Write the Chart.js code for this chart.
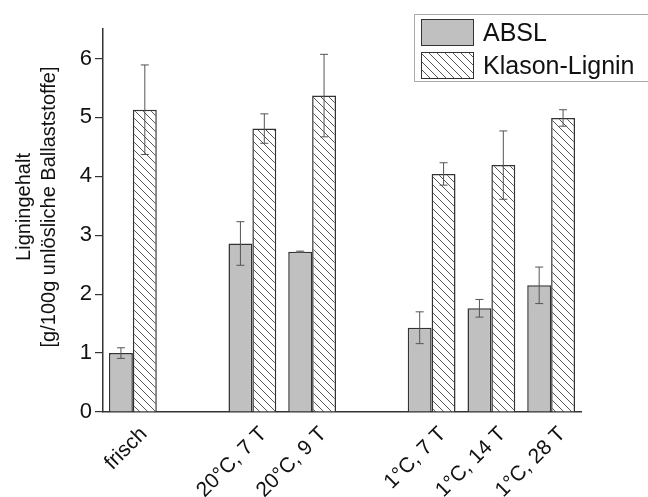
<!DOCTYPE html>
<html>
<head>
<meta charset="utf-8">
<script src="https://cdn.jsdelivr.net/npm/chart.js@4.4.1/dist/chart.umd.min.js"></script>
<style>
  html, body { margin: 0; padding: 0; background: #fff; }
  #wrap { width: 648px; height: 497px; }
</style>
</head>
<body>
<div id="wrap"><canvas id="c" width="648" height="497"></canvas></div>
<script>
const categories = ['frisch', '', '20°C, 7 T', '20°C, 9 T', '', '1°C, 7 T', '1°C, 14 T', '1°C, 28 T'];
const abslValues = [1.00, null, 2.86, 2.72, null, 1.43, 1.76, 2.15];
const abslErrors = [0.09, null, 0.37, 0.01, null, 0.27, 0.15, 0.31];
const klasonValues = [5.13, null, 4.81, 5.37, null, 4.04, 4.19, 4.99];
const klasonErrors = [0.76, null, 0.25, 0.70, null, 0.19, 0.58, 0.14];
const yTicks = [0, 1, 2, 3, 4, 5, 6];
const seriesNames = ['ABSL', 'Klason-Lignin'];
const yTitle = ['Ligningehalt', '[g/100g unlösliche Ballaststoffe]'];

const FONT = "'Liberation Sans', Arial, sans-serif";

function makeHatch() {
  const s = 8;
  const pc = document.createElement('canvas');
  pc.width = s; pc.height = s;
  const p = pc.getContext('2d');
  p.fillStyle = '#ffffff';
  p.fillRect(0, 0, s, s);
  p.strokeStyle = '#555';
  p.lineWidth = 1;
  p.beginPath();
  p.moveTo(0, 0); p.lineTo(s, s);
  p.moveTo(-1, s - 1); p.lineTo(1, s + 1);
  p.moveTo(s - 1, -1); p.lineTo(s + 1, 1);
  p.stroke();
  return document.getElementById('c').getContext('2d').createPattern(pc, 'repeat');
}
const hatch = makeHatch();

const errorBars = {
  id: 'errorBars',
  afterDatasetsDraw(chart) {
    const ctx = chart.ctx;
    const ys = chart.scales.y;
    chart.data.datasets.forEach((ds, di) => {
      const meta = chart.getDatasetMeta(di);
      meta.data.forEach((el, i) => {
        const v = ds.data[i];
        const e = ds.errors[i];
        if (v == null || e == null) return;
        const x = el.x;
        const yt = ys.getPixelForValue(v + e);
        const yb = ys.getPixelForValue(v - e);
        ctx.save();
        ctx.strokeStyle = '#555';
        ctx.lineWidth = 1;
        ctx.beginPath();
        ctx.moveTo(x, yt); ctx.lineTo(x, yb);
        ctx.moveTo(x - 4, yt); ctx.lineTo(x + 4, yt);
        ctx.moveTo(x - 4, yb); ctx.lineTo(x + 4, yb);
        ctx.stroke();
        ctx.restore();
      });
    });
  }
};

const axisTitle = {
  id: 'axisTitle',
  afterDraw(chart) {
    const ctx = chart.ctx;
    ctx.save();
    ctx.translate(24, 207);
    ctx.rotate(-Math.PI / 2);
    ctx.fillStyle = '#111';
    ctx.font = '20px ' + FONT;
    ctx.textAlign = 'center';
    ctx.textBaseline = 'middle';
    yTitle.forEach((t, i) => ctx.fillText(t, 0, i * 25));
    ctx.restore();
  }
};

const boxLegend = {
  id: 'boxLegend',
  afterDraw(chart) {
    const ctx = chart.ctx;
    ctx.save();
    ctx.strokeStyle = '#aaa';
    ctx.lineWidth = 1;
    ctx.strokeRect(414.5, 14.5, 250, 67);
    const rows = [{y: 19.5, h: 26}, {y: 52.5, h: 26}];
    chart.data.datasets.forEach((ds, i) => {
      const r = rows[i];
      ctx.fillStyle = ds.backgroundColor;
      ctx.fillRect(421.5, r.y, 52, r.h);
      ctx.strokeStyle = '#333';
      ctx.lineWidth = 1;
      ctx.strokeRect(421.5, r.y, 52, r.h);
      ctx.fillStyle = '#111';
      ctx.font = '25px ' + FONT;
      ctx.textBaseline = 'alphabetic';
      ctx.fillText(ds.label, 483, r.y + 21);
    });
    ctx.restore();
  }
};

new Chart(document.getElementById('c'), {
  type: 'bar',
  data: {
    labels: categories,
    datasets: [
      { label: seriesNames[0], data: abslValues, errors: abslErrors,
        backgroundColor: '#c0c0c0', borderColor: '#333', borderWidth: 1.5,
        barPercentage: 1.0, categoryPercentage: 0.8 },
      { label: seriesNames[1], data: klasonValues, errors: klasonErrors,
        backgroundColor: hatch, borderColor: '#333', borderWidth: 1.5,
        barPercentage: 1.0, categoryPercentage: 0.8 }
    ]
  },
  plugins: [errorBars, axisTitle, boxLegend],
  options: {
    responsive: false,
    animation: false,
    layout: { padding: { top: 29, right: 67, left: 0, bottom: 0 } },
    plugins: { legend: { display: false }, tooltip: { enabled: false } },
    scales: {
      x: {
        grid: { display: false },
        border: { display: true, color: '#333', width: 1.5 },
        ticks: { color: '#111', font: { family: FONT, size: 21 }, minRotation: 45, maxRotation: 45, autoSkip: false, padding: 2, labelOffset: 11 },
        afterFit(s) { s.height = 85; }
      },
      y: {
        min: 0, max: 6.5,
        afterBuildTicks(s) { s.ticks = yTicks.map(v => ({ value: v })); },
        grid: { drawOnChartArea: false, drawTicks: true, tickLength: 8, color: '#333', lineWidth: 1.2 },
        border: { display: true, color: '#333', width: 1.5 },
        ticks: { color: '#111', font: { family: FONT, size: 22 }, padding: 3 },
        afterFit(s) { s.width = 103; }
      }
    }
  }
});
</script>
</body>
</html>
